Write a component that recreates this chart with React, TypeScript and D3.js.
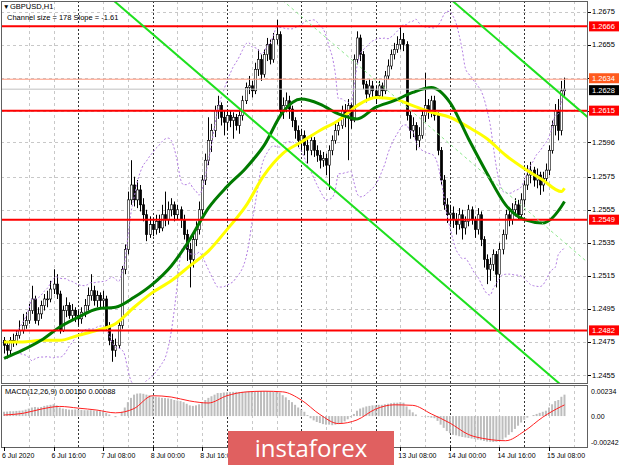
import React from 'react';
import * as d3 from 'd3';

// GBPUSD H1, 6 Jul 2020 00:00 .. 15 Jul 2020 13:00
// quotes below are pips above 1.2400
const BASE = 1.24;
const firstOpen = 76;
const closes = [
  73, 70, 76, 75, 79, 82, 85, 88, 94, 101, 88, 92, 97, 101, 101, 107, 110, 104, 82, 94,
  97, 91, 94, 91, 89, 93, 97, 103, 106, 100, 103, 100, 101, 84, 76, 70, 73, 85, 119, 131,
  161, 170, 161, 167, 158, 152, 140, 146, 143, 148, 144, 152, 149, 155, 158, 152, 155, 149, 140, 131,
  125, 137, 143, 155, 173, 185, 197, 203, 215, 218, 211, 208, 212, 209, 211, 206, 212, 221, 229, 230,
  227, 240, 246, 237, 249, 255, 246, 258, 261, 215, 218, 221, 216, 209, 203, 197, 200, 194, 191, 197,
  191, 188, 185, 186, 182, 191, 197, 203, 206, 215, 212, 218, 209, 246, 259, 249, 231, 225, 230, 227,
  224, 230, 227, 236, 242, 249, 252, 255, 258, 255, 212, 203, 206, 197, 200, 212, 218, 215, 221, 212,
  191, 173, 158, 152, 153, 149, 146, 152, 144, 148, 155, 149, 143, 152, 137, 125, 119, 122, 128, 116,
  131, 140, 152, 149, 155, 158, 152, 161, 170, 176, 179, 173, 176, 170, 174, 179, 191, 206, 215, 203,
  227, 228,
];
const highs = [
  78, 75, 78, 80, 82, 88, 92, 93, 98, 109, 103, 96, 100, 104, 106, 112, 119, 116, 106, 97,
  102, 99, 98, 96, 94, 96, 101, 108, 116, 109, 106, 105, 106, 103, 87, 80, 77, 88, 121, 134,
  166, 185, 175, 173, 170, 162, 155, 151, 150, 152, 152, 158, 166, 160, 162, 160, 158, 157, 152, 143,
  135, 140, 148, 160, 176, 189, 211, 207, 218, 224, 220, 215, 216, 215, 214, 213, 216, 224, 232, 236,
  233, 244, 252, 249, 252, 259, 258, 262, 270, 263, 223, 226, 224, 218, 211, 206, 204, 203, 198, 200,
  199, 194, 191, 190, 189, 194, 200, 207, 210, 218, 219, 222, 220, 249, 263, 261, 251, 233, 234, 233,
  230, 233, 232, 239, 246, 252, 256, 260, 266, 262, 257, 215, 211, 208, 205, 215, 238, 222, 224, 224,
  214, 193, 176, 162, 158, 157, 153, 156, 155, 151, 158, 157, 151, 156, 154, 139, 128, 126, 131, 130,
  135, 143, 155, 156, 159, 162, 161, 165, 173, 182, 184, 181, 180, 178, 178, 183, 194, 209, 219, 222,
  233, 235,
];
const lows = [
  68, 65, 67, 72, 73, 77, 80, 83, 86, 92, 86, 85, 89, 94, 96, 99, 104, 101, 80, 81,
  90, 89, 88, 87, 85, 86, 90, 94, 100, 97, 96, 95, 96, 82, 73, 63, 66, 71, 83, 116,
  128, 158, 157, 156, 154, 148, 136, 138, 139, 140, 141, 142, 145, 146, 151, 148, 149, 144, 137, 124,
  108, 120, 133, 140, 152, 170, 182, 190, 199, 210, 206, 200, 203, 205, 198, 203, 201, 209, 219, 225,
  223, 225, 236, 233, 235, 245, 243, 244, 255, 212, 210, 214, 210, 205, 198, 193, 190, 188, 183, 188,
  187, 184, 180, 181, 176, 167, 188, 195, 200, 204, 205, 185, 204, 208, 243, 245, 228, 220, 222, 223,
  219, 222, 222, 225, 234, 240, 246, 250, 252, 251, 209, 198, 199, 191, 193, 198, 208, 210, 211, 209,
  188, 170, 155, 147, 146, 144, 140, 143, 137, 140, 145, 146, 138, 140, 133, 120, 110, 112, 118, 108,
  81, 128, 137, 145, 146, 151, 149, 150, 158, 167, 171, 169, 168, 164, 166, 171, 176, 189, 200, 197,
  200, 224,
];

// moving averages read every 6 bars (last point = last bar)
const maBars = [0, 6, 12, 18, 24, 30, 36, 42, 48, 54, 60, 66, 72, 78, 84, 90, 96, 102, 108, 114, 120, 126, 132, 138, 144, 150, 156, 162, 168, 174, 180, 181];
const maGreen = [65, 70, 76, 84, 90, 95, 96, 102, 110, 121, 137, 156, 169, 180, 194, 214, 222, 219, 213, 210, 217, 221, 226, 229, 220, 198, 177, 158, 149, 147, 157, 160];
const maYellow = [75, 75, 76, 76, 79, 82, 86, 96, 105, 112, 121, 130, 143, 157, 176, 189, 196, 203, 209, 218, 223, 222, 218, 214, 211, 205, 198, 188, 180, 173, 166, 168];

// MACD main (histogram), one per bar, in 0.00001
const macdMain = [
  40, 42, 45, 45, 48, 50, 52, 60, 70, 80, 85, 80, 85, 95, 100, 105, 110, 100, 80, 70,
  65, 60, 60, 62, 60, 58, 55, 55, 55, 52, 50, 45, 42, 30, 15, 0, -10, 0, 40, 80,
  130, 170, 200, 210, 212, 208, 200, 195, 185, 180, 175, 170, 168, 165, 160, 150, 145, 140, 130, 115,
  100, 95, 100, 110, 130, 150, 170, 185, 200, 215, 215, 220, 222, 224, 226, 226, 225, 226, 228, 230,
  228, 230, 232, 234, 234, 232, 230, 228, 225, 220, 195, 175, 150, 130, 105, 80, 60, 40, 10, -20,
  -40, -55, -65, -75, -80, -80, -85, -80, -75, -65, -50, -30, -10, 20, 50, 70, 80, 90, 95, 100,
  100, 105, 105, 110, 115, 120, 125, 125, 130, 125, 90, 60, 35, 15, 0, -5, -5, -10, -15, -20,
  -45, -80, -110, -140, -160, -175, -180, -188, -195, -200, -205, -210, -215, -220, -225, -232, -238, -240, -242, -240,
  -232, -220, -200, -175, -150, -120, -90, -60, -35, -15, 0, 10, 20, 30, 40, 50, 80, 110, 140, 150,
  180, 200,
];
// MACD signal read every 6 bars, in 0.00001
const macdSignal = [10, 25, 65, 90, 74, 56, 30, 70, 190, 178, 141, 122, 190, 225, 232, 226, 150, 15, -70, -36, 65, 105, 100, 20, -65, -172, -215, -230, -142, -10, 90, 104];

const levels = [1.2666, 1.2615, 1.2549, 1.2482];
const askPrice = 1.2634;
const bidPrice = 1.2628;

const priceTicks = [1.2675, 1.2655, 1.2635, 1.2615, 1.2596, 1.2575, 1.2555, 1.2535, 1.2515, 1.2495, 1.2475, 1.2455];
const dateBars = [0, 16, 32, 48, 64, 80, 96, 112, 128, 144, 160, 176];
const dateLabels = ['6 Jul 2020', '6 Jul 16:00', '7 Jul 08:00', '8 Jul 00:00', '8 Jul 16:00', '9 Jul 08:00',
  '10 Jul 00:00', '10 Jul 16:00', '13 Jul 08:00', '14 Jul 00:00', '14 Jul 16:00', '15 Jul 08:00'];
const dayBars = [24, 48, 72, 96, 120, 144, 168];

// regression channel: anchor at the 14 Jul low
const chAnchorBar = 160;
const chAnchorPrice = 1.2481;
const chSlope = -0.000161;
const chWidth = 0.0176;

const macdTicks = [0.00234, 0, -0.00242];
const macdTickLabels = ['0.00234', '0.00', '-0.00242'];

const px = (p: number) => BASE + p / 10000;

const FONT = '"Liberation Sans", Arial, sans-serif';

const App: React.FC = () => {
  const L = 1, R = 588, T = 1, B = 383, MT = 385, MB = 447;

  const x = d3.scaleLinear().domain([0, 176]).range([4, 549]);
  const y = d3.scaleLinear().domain([1.2455, 1.2675]).range([375, 11.5]);
  const yM = d3.scaleLinear().domain([-0.00242, 0.00234]).range([442, 391]);

  const cl = closes.map(px);
  const candles = cl.map((c, i) => ({
    i, o: i ? cl[i - 1] : px(firstOpen), c, h: px(highs[i]), l: px(lows[i]),
  }));

  // Bollinger (20, 2)
  const bb = cl.map((_, i) => {
    const w = cl.slice(Math.max(0, i - 19), i + 1);
    const m = d3.mean(w) as number;
    const sd = Math.sqrt(d3.mean(w.map(v => (v - m) ** 2)) as number);
    return { i, up: m + 2 * sd, lo: m - 2 * sd };
  }).filter(d => d.i >= 4);

  const line = d3.line<[number, number]>().x(d => x(d[0])).y(d => y(d[1])).curve(d3.curveMonotoneX);
  const straight = d3.line<[number, number]>().x(d => x(d[0])).y(d => y(d[1]));
  const mLine = d3.line<[number, number]>().x(d => x(d[0])).y(d => yM(d[1])).curve(d3.curveMonotoneX);

  const chAt = (b: number, off: number) => chAnchorPrice + chSlope * (b - chAnchorBar) + off;
  const chRange = [-10, 200];

  const sx = (v: number) => Math.round(v) + 0.5;

  return (
    <svg width={620} height={465} style={{ display: 'block', position: 'absolute', left: 0, top: 0, background: '#fff' }}
      fontFamily={FONT}>
      <defs>
        <clipPath id="main"><rect x={L} y={T} width={R - L} height={B - T} /></clipPath>
        <clipPath id="macd"><rect x={L} y={MT} width={R - L} height={MB - MT} /></clipPath>
      </defs>
      <rect x={0} y={0} width={620} height={465} fill="#fff" />

      {/* grid */}
      {d3.range(8, 188, 8).filter(b => !dayBars.includes(b)).map(b => (
        <line key={'gv' + b} x1={sx(x(b))} x2={sx(x(b))} y1={T} y2={MB} stroke="#c8c8c8" strokeDasharray="3,3" />
      ))}
      {dayBars.map(b => (
        <line key={'dv' + b} x1={sx(x(b))} x2={sx(x(b))} y1={T} y2={MB} stroke="#333" strokeDasharray="2,2" />
      ))}
      {priceTicks.map(t => (
        <line key={'gh' + t} x1={L} x2={R} y1={sx(y(t))} y2={sx(y(t))} stroke="#c8c8c8" strokeDasharray="3,3" />
      ))}

      {/* candles */}
      <g clipPath="url(#main)">
        {candles.map(d => {
          const cx = sx(x(d.i));
          const up = d.c >= d.o;
          const top = y(Math.max(d.o, d.c)), bot = y(Math.min(d.o, d.c));
          return (
            <g key={'c' + d.i}>
              <line x1={cx} x2={cx} y1={y(d.h)} y2={y(d.l)} stroke="#000" strokeWidth={1} />
              <rect x={cx - 1.2} y={top} width={2.4} height={Math.max(bot - top, 0.8)}
                fill={up ? '#fff' : '#000'} stroke="#000" strokeWidth={0.6} />
            </g>
          );
        })}

        {/* Bollinger bands */}
        <path d={d3.line<typeof bb[0]>().x(d => x(d.i)).y(d => y(d.up)).curve(d3.curveMonotoneX)(bb) || ''}
          fill="none" stroke="#b27de2" strokeWidth={1} strokeDasharray="2,2" />
        <path d={d3.line<typeof bb[0]>().x(d => x(d.i)).y(d => y(d.lo)).curve(d3.curveMonotoneX)(bb) || ''}
          fill="none" stroke="#b27de2" strokeWidth={1} strokeDasharray="2,2" />

        {/* moving averages */}
        <path d={line(maBars.map((b, k) => [b, px(maYellow[k])] as [number, number])) || ''}
          fill="none" stroke="#ffff00" strokeWidth={3} />
        <path d={line(maBars.map((b, k) => [b, px(maGreen[k])] as [number, number])) || ''}
          fill="none" stroke="#007a00" strokeWidth={3} />

        {/* bid / ask */}
        <line x1={L} x2={R} y1={y(askPrice)} y2={y(askPrice)} stroke="#ff9a80" strokeWidth={1} />
        <line x1={L} x2={R} y1={y(bidPrice)} y2={y(bidPrice)} stroke="#c0c0c0" strokeWidth={1} />

        {/* support / resistance */}
        {levels.map(lv => (
          <line key={'lv' + lv} x1={L} x2={R} y1={y(lv)} y2={y(lv)} stroke="#ff0000" strokeWidth={2} />
        ))}

        {/* channel */}
        <path d={straight(chRange.map(b => [b, chAt(b, 0)] as [number, number])) || ''} stroke="#1ee01e" strokeWidth={2} fill="none" />
        <path d={straight(chRange.map(b => [b, chAt(b, chWidth)] as [number, number])) || ''} stroke="#1ee01e" strokeWidth={2} fill="none" />
        <path d={straight(chRange.map(b => [b, chAt(b, chWidth / 2)] as [number, number])) || ''} stroke="#8fe88f" strokeWidth={1} strokeDasharray="3,3" fill="none" />
      </g>

      {/* MACD */}
      <g clipPath="url(#macd)">
        {macdMain.map((v, i) => (
          <line key={'h' + i} x1={x(i)} x2={x(i)} y1={yM(0)} y2={yM(v / 100000)} stroke="#bdbdbd" strokeWidth={2} />
        ))}
        <path d={mLine(maBars.map((b, k) => [b, macdSignal[k] / 100000] as [number, number])) || ''}
          fill="none" stroke="#ff2020" strokeWidth={1} />
      </g>

      {/* frames */}
      <rect x={L + 0.5} y={T + 0.5} width={R - L - 1} height={B - T} fill="none" stroke="#606060" />
      <rect x={L + 0.5} y={MT + 0.5} width={R - L - 1} height={MB - MT} fill="none" stroke="#606060" />

      {/* texts */}
      <text x={3} y={9} fontSize={6.5}>▼</text>
      <text x={10} y={9} fontSize={7.5}>GBPUSD,H1</text>
      <text x={7} y={20} fontSize={7.5}>Channel size = 178 Slope = -1.61</text>
      <text x={5} y={394} fontSize={7.5}>MACD(12,26,9) 0.00160 0.00088</text>

      {/* price axis */}
      {priceTicks.map(t => (
        <g key={'pt' + t}>
          <line x1={R} x2={R + 3} y1={sx(y(t))} y2={sx(y(t))} stroke="#000" />
          <text x={592} y={y(t) + 2.5} fontSize={7.5}>{t.toFixed(4)}</text>
        </g>
      ))}
      {levels.map(lv => (
        <g key={'ll' + lv}>
          <rect x={589} y={y(lv) - 5} width={30} height={10} fill="#ff0000" />
          <text x={592} y={y(lv) + 2.5} fontSize={7.5} fill="#fff">{lv.toFixed(4)}</text>
        </g>
      ))}
      <rect x={589} y={y(askPrice) - 6} width={30} height={10} fill="#ff5a1e" />
      <text x={592} y={y(askPrice) + 1.5} fontSize={7.5} fill="#fff">{askPrice.toFixed(4)}</text>
      <rect x={589} y={y(bidPrice) - 4} width={30} height={10} fill="#000" />
      <text x={592} y={y(bidPrice) + 3.5} fontSize={7.5} fill="#fff">{bidPrice.toFixed(4)}</text>

      {macdTicks.map((t, k) => (
        <text key={'mt' + k} x={591} y={yM(t) + 2.5} fontSize={7}>{macdTickLabels[k]}</text>
      ))}

      {/* time axis */}
      {dateBars.map((b, k) => (
        <g key={'dt' + b}>
          <line x1={sx(x(b))} x2={sx(x(b))} y1={MB} y2={MB + 4} stroke="#000" />
          <text x={x(b) - 2} y={458} fontSize={7}>{dateLabels[k]}</text>
        </g>
      ))}

      {/* watermark */}
      <rect x={228} y={431} width={166} height={40} fill="#e06060" />
      <text x={311} y={457} textAnchor="middle" fontSize={24} fill="#fff" fontFamily='"Open Sans", sans-serif'>instaforex</text>
    </svg>
  );
};

export default App;
